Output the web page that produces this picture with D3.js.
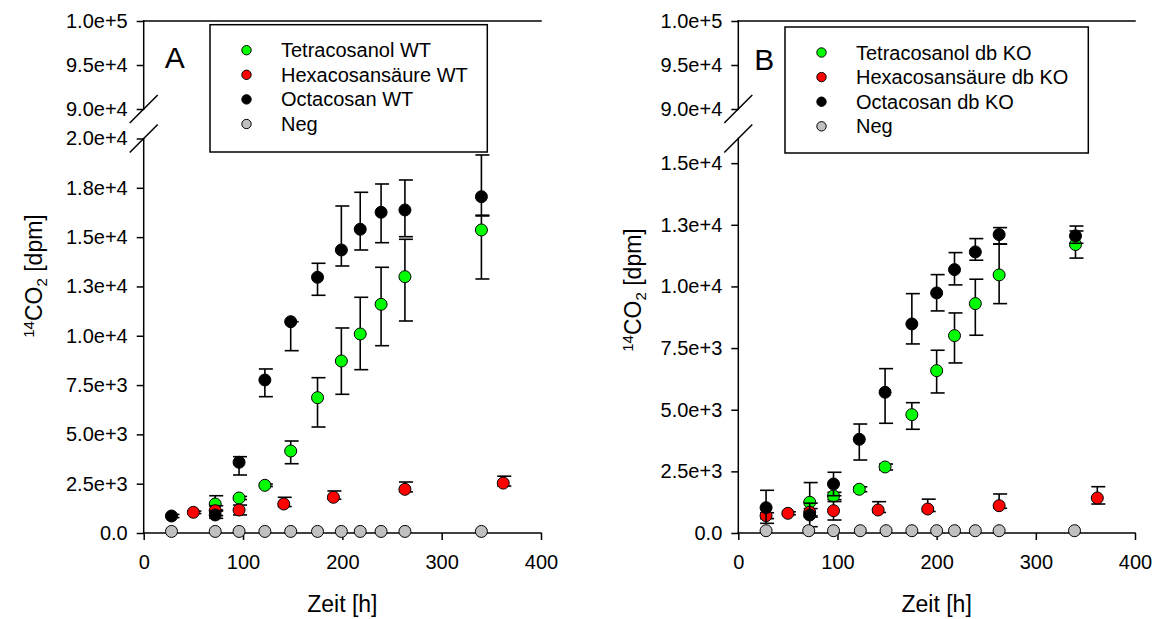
<!DOCTYPE html>
<html>
<head>
	<title>14CO2 Zeitverlauf</title>
	<meta charset="utf-8">
	<script type="text/javascript" src="https://cdn.jsdelivr.net/npm/d3@7/dist/d3.min.js"></script>
	<style type="text/css">
		html, body {
			margin: 0;
			padding: 0;
			background: #fff;
		}
		text {
			font-family: "Liberation Sans", Arial, sans-serif;
			fill: #000;
		}
		.ax line {
			stroke: #000;
			stroke-width: 1.5px;
		}
		.ax .domain {
			display: none;
		}
		.eb {
			stroke: #000;
			stroke-width: 1.6px;
		}
	</style>
</head>
<body>
	<div id="graph"></div>
	<script type="text/javascript">
		// rows: [Zeit h, dpm, Fehler oben, Fehler unten]
		var tetraWT = [[72,1470,420,300],[96,1775,80,80],[122,2418,60,60],[148,4157,507,644],[175,6860,1014,1486],
			[199,8720,1674,1688],[218,10089,1861,1809],[239,11595,1876,2099],[263,12995,1895,2247],[340,15362,750,2484]];
		var hexaWT = [[50,1049,60,60],[72,1131,250,250],[96,1166,250,250],[141,1470,340,130],[191,1810,320,100],
			[263,2215,370,130],[362,2530,350,150]];
		var octaWT = [[28,862,80,80],[72,913,200,170],[96,3585,284,644],[122,7758,558,847],[148,10713,0,1470],
			[175,12964,710,913],[199,14348,2230,811],[218,15398,1875,1050],[239,16260,1434,1542],[263,16376,1521,1354],[340,17050,2115,978]];
		var negWT = [[28,80,0,0],[72,80,0,0],[96,80,0,0],[122,80,0,0],[148,80,0,0],[175,80,0,0],
			[199,80,0,0],[218,80,0,0],[239,80,0,0],[263,80,0,0],[340,80,0,0]];

		var tetraKO = [[72,1245,800,600],[96,1501,150,150],[122,1773,100,100],[148,2678,120,120],[175,4800,486,593],
			[200,6585,827,905],[218,8005,920,1108],[239,9303,990,1282],[263,10467,1246,1164],[340,11700,550,550]];
		var hexaKO = [[28,702,120,120],[50,799,60,60],[72,840,150,150],[96,905,370,378],[141,933,337,100],
			[191,973,400,100],[263,1108,474,106],[362,1420,458,244]];
		var octaKO = [[28,1027,705,634],[72,730,480,474],[96,1988,475,475],[122,3800,620,840],[148,5708,958,1258],
			[175,8479,1229,811],[200,9737,742,730],[218,10682,690,620],[239,11400,540,337],[263,12102,284,377],[340,12050,400,300]];
		var negKO = [[28,93,0,0],[71,93,0,0],[96,93,0,0],[123,93,0,0],[149,93,0,0],[175,93,0,0],
			[200,93,0,0],[218,93,0,0],[239,93,0,0],[263,93,0,0],[339,93,0,0]];

		var xTicks = [0, 100, 200, 300, 400];
		var yTicksHigh = [90000, 95000, 100000];
		var yLabelsHigh = ["9.0e+4", "9.5e+4", "1.0e+5"];
		var yTicksLowA = [0, 2500, 5000, 7500, 10000, 12500, 15000, 17500, 20000];
		var yLabelsLowA = ["0.0", "2.5e+3", "5.0e+3", "7.5e+3", "1.0e+4", "1.3e+4", "1.5e+4", "1.8e+4", "2.0e+4"];
		var yTicksLowB = [0, 2500, 5000, 7500, 10000, 12500, 15000];
		var yLabelsLowB = ["0.0", "2.5e+3", "5.0e+3", "7.5e+3", "1.0e+4", "1.3e+4", "1.5e+4"];

		var namesA = ["Tetracosanol WT", "Hexacosansäure WT", "Octacosan WT", "Neg"];
		var namesB = ["Tetracosanol db KO", "Hexacosansäure db KO", "Octacosan db KO", "Neg"];
		var colors = ["#00ff00", "#ff0000", "#000000", "#c0c0c0"];

		var W = 1154, H = 619;
		var svg = d3.select('#graph').append('svg').attr('width', W).attr('height', H);

		function panel(o) {
			var g = svg.append('g');
			var x = d3.scaleLinear().domain([0, 400]).range([o.x0, o.x1]);
			var yHi = d3.scaleLinear().domain([90000, 100000]).range([109, 21]);
			var yLo = d3.scaleLinear().domain([0, o.lowMax]).range([533, 138.5]);

			function seg(x1, y1, x2, y2) {
				g.append('line')
					.attr('x1', x1).attr('y1', y1).attr('x2', x2).attr('y2', y2)
					.attr('stroke', '#000').attr('stroke-width', 1.5)
					.attr('stroke-linecap', 'square');
			}

			// y axis, upper part
			g.append('g').attr('class', 'ax')
				.attr('transform', 'translate(' + o.x0 + ',0)')
				.call(d3.axisLeft(yHi).tickValues(yTicksHigh).tickSize(7).tickPadding(9)
					.tickFormat(function(d, i) { return yLabelsHigh[i]; }));
			// y axis, lower part
			g.append('g').attr('class', 'ax')
				.attr('transform', 'translate(' + o.x0 + ',0)')
				.call(d3.axisLeft(yLo).tickValues(o.yTicks).tickSize(7).tickPadding(9)
					.tickFormat(function(d, i) { return o.yLabels[i]; }));
			// x axis
			g.append('g').attr('class', 'ax')
				.attr('transform', 'translate(0,533)')
				.call(d3.axisBottom(x).tickValues(xTicks).tickSize(7).tickPadding(15)
					.tickFormat(d3.format('d')));
			g.selectAll('.ax text').style('font-size', '20px');

			// axis lines
			seg(o.x0, yHi(100000), o.x0, yHi(90000));
			seg(o.x0, yLo(o.lowMax), o.x0, yLo(0));
			seg(o.x0, yLo(0), o.x1, yLo(0));
			// top frame line
			seg(o.x0, yHi(100000), o.x1, yHi(100000));

			// break marks
			[yHi(90000), yLo(o.lowMax)].forEach(function(yy) {
				g.append('line')
					.attr('x1', o.x0 - 14).attr('y1', yy + 14)
					.attr('x2', o.x0 + 14).attr('y2', yy - 14)
					.attr('stroke', '#000').attr('stroke-width', 1.5);
			});

			// series: error bars, then dots
			o.series.forEach(function(s, k) {
				var sg = g.append('g');
				var withErr = s.filter(function(d) { return d[2] + d[3] > 0; });
				sg.selectAll('line.v')
					.data(withErr)
					.enter().append('line')
						.attr('class', 'eb')
						.attr('x1', function(d) { return x(d[0]); })
						.attr('x2', function(d) { return x(d[0]); })
						.attr('y1', function(d) { return yLo(d[1] + d[2]); })
						.attr('y2', function(d) { return yLo(d[1] - d[3]); });
				sg.selectAll('line.cu')
					.data(withErr)
					.enter().append('line')
						.attr('class', 'eb')
						.attr('x1', function(d) { return x(d[0]) - 6; })
						.attr('x2', function(d) { return x(d[0]) + 8; })
						.attr('y1', function(d) { return yLo(d[1] + d[2]); })
						.attr('y2', function(d) { return yLo(d[1] + d[2]); });
				sg.selectAll('line.cd')
					.data(withErr)
					.enter().append('line')
						.attr('class', 'eb')
						.attr('x1', function(d) { return x(d[0]) - 6; })
						.attr('x2', function(d) { return x(d[0]) + 8; })
						.attr('y1', function(d) { return yLo(d[1] - d[3]); })
						.attr('y2', function(d) { return yLo(d[1] - d[3]); });
				sg.selectAll('circle')
					.data(s)
					.enter().append('circle')
						.attr('cx', function(d) { return x(d[0]); })
						.attr('cy', function(d) { return yLo(d[1]); })
						.attr('r', 6)
						.attr('fill', colors[k])
						.attr('stroke', '#000')
						.attr('stroke-width', 1);
			});

			// panel letter
			g.append('text')
				.attr('x', o.x0 + o.letterDx).attr('y', o.letterY)
				.style('font-size', '30px')
				.text(o.letter);

			// legend
			var L = o.legend;
			g.append('rect')
				.attr('x', L.x).attr('y', L.y).attr('width', L.w).attr('height', L.h)
				.attr('fill', '#fff').attr('stroke', '#000').attr('stroke-width', 1.5);
			var li = g.selectAll('g.leg')
				.data(o.names)
				.enter().append('g')
					.attr('class', 'leg')
					.attr('transform', function(d, i) { return 'translate(' + (L.x + 36.5) + ',' + (L.y + 25.5 + i * 24.6) + ')'; });
			li.append('circle')
				.attr('r', 4.7)
				.attr('fill', function(d, i) { return colors[i]; })
				.attr('stroke', '#000').attr('stroke-width', 1);
			li.append('text')
				.attr('x', 34.5).attr('y', 7)
				.style('font-size', '20px')
				.text(function(d) { return d; });

			// axis titles
			g.append('text')
				.attr('x', (o.x0 + o.x1) / 2).attr('y', 612)
				.attr('text-anchor', 'middle')
				.style('font-size', '23px')
				.text('Zeit [h]');
			var yt = g.append('text')
				.attr('transform', 'translate(' + o.ytX + ',' + o.ytY + ') rotate(-90)')
				.attr('text-anchor', 'middle')
				.style('font-size', '23px');
			yt.append('tspan').attr('dy', -8).style('font-size', '15px').text('14');
			yt.append('tspan').attr('dy', 8).text('CO');
			yt.append('tspan').attr('dy', 5).style('font-size', '15px').text('2');
			yt.append('tspan').attr('dy', -5).text(' [dpm]');
		}

		panel({
			x0: 143.7, x1: 541, lowMax: 20000,
			yTicks: yTicksLowA, yLabels: yLabelsLowA,
			series: [tetraWT, hexaWT, octaWT, negWT],
			names: namesA, letter: 'A', letterDx: 21, letterY: 68.3,
			legend: {x: 210, y: 24.7, w: 277.3, h: 127.3},
			ytX: 42, ytY: 276
		});
		panel({
			x0: 738.3, x1: 1135, lowMax: 16000,
			yTicks: yTicksLowB, yLabels: yLabelsLowB,
			series: [tetraKO, hexaKO, octaKO, negKO],
			names: namesB, letter: 'B', letterDx: 16, letterY: 70,
			legend: {x: 785, y: 27, w: 303.3, h: 126},
			ytX: 641, ytY: 290
		});
	</script>
</body>
</html>
